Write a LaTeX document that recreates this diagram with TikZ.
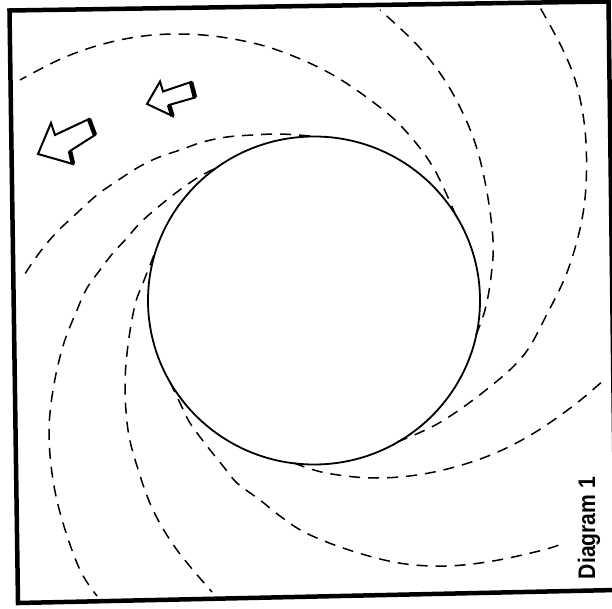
\documentclass[tikz,border=0pt]{standalone}
\usepackage{fontspec}
\setmainfont{Liberation Sans}
\begin{document}
\begin{tikzpicture}[x=1pt,y=-1pt,
  spiral/.style={line width=1.5pt, dash pattern=on 11pt off 8pt, smooth, tension=0.6},
  framebox/.style={line width=4.5pt, line join=miter},
  hub/.style={line width=1.8pt},
  hollowarrow/.style={line width=2pt, line join=miter, fill=white},
  arrowshade/.style={line width=4.5pt, line cap=butt},
  caption/.style={rotate=90, inner sep=0pt, font=\bfseries\fontsize{24}{25}\selectfont}]
\fill[white] (0,0) rectangle (612,609);
\useasboundingbox (0,0) rectangle (612,609);

% frame
\draw[framebox] (9.5,10.5) -- (608.5,1.5) -- (616,590) -- (18,603) -- cycle;

% central circle
\draw[hub] (314,300.5) ellipse[x radius=166pt, y radius=164pt];

% spiral arms
\draw[spiral] plot coordinates {(456,216) (433,167) (403,128) (373,102) (333,75) (293,56) (253,43) (203,35) (153,35) (107,43) (63,58) (20,80)};
\draw[spiral] plot coordinates {(310,136) (280,134) (253,135) (227,137) (203,142) (180,150) (157,158) (137,168) (117,181) (97,195) (77,213) (55,234) (37,256) (21,280)};
\draw[spiral] plot coordinates {(214,169) (197,178) (177,192) (157,208) (140,223) (127,238) (113,253) (100,270) (87,288) (77,310) (63,346) (53,390) (49,433) (53,480) (63,523) (80,570) (97,596)};
\draw[spiral] plot coordinates {(154,255) (143,283) (135,305) (128,345) (125,386) (128,430) (137,466) (153,510) (177,550) (212,592)};
\draw[spiral] plot coordinates {(170,382) (180,403) (190,423) (207,446) (223,466) (237,483) (260,500) (280,516) (306,533) (349,550) (399,563) (446,566) (493,561) (543,550) (564,543)};
\draw[spiral] plot coordinates {(294,463) (326,473) (376,478) (429,473) (483,458) (529,436) (573,406) (605,379)};
\draw[spiral] plot coordinates {(397,442) (439,423) (486,390) (523,356) (546,316) (569,267) (584,207) (586,143) (578,90) (563,50) (538,4)};
\draw[spiral] plot coordinates {(476,335) (485,310) (491,277) (493,240) (486,187) (473,137) (449,87) (419,47) (380,10)};

% hollow arrows
\draw[hollowarrow] (38,154) -- (51,123) -- (55,135) -- (89,119) -- (95,135) -- (70,151) -- (73,164) -- cycle;
\draw[arrowshade] (89,119) -- (95,135);
\draw[arrowshade] (70,151) -- (73,164);
\draw[hollowarrow] (147,104) -- (160,81.5) -- (163,91.5) -- (191,82) -- (195,97.5) -- (169,105) -- (172.5,116) -- cycle;
\draw[arrowshade] (191,82) -- (195,97.5);
\draw[arrowshade] (169,105) -- (172.5,116);

% caption
\node[caption] (cap) at (589,528) {\scalebox{0.88}[1]{Diagram 1}};
\end{tikzpicture}
\end{document}
